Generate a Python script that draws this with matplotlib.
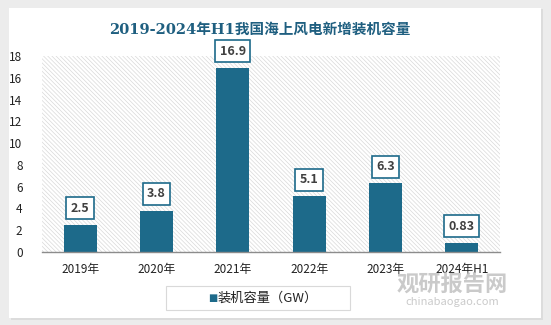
import matplotlib
matplotlib.use("Agg")
from matplotlib import pyplot as plt
from matplotlib.patches import Rectangle
import numpy as np

# data
years = ["2019年", "2020年", "2021年", "2022年", "2023年", "2024年H1"]
capacity = [2.5, 3.8, 16.9, 5.1, 6.3, 0.83]
labels = ["2.5", "3.8", "16.9", "5.1", "6.3", "0.83"]

plt.rcParams['font.family'] = ['Noto Sans CJK SC', 'DejaVu Sans']
plt.rcParams['hatch.linewidth'] = 0.5
plt.rcParams['hatch.color'] = "#d9d9d9"

bar_color = "#1d6a8a"
title_color = "#1f5f80"

fig = plt.figure(figsize=(5.51, 3.25), dpi=100)
fig.patch.set_facecolor("#ececec")

# white card with soft shadow
fig.patches.append(Rectangle((11 / 551, 1 - 320 / 325), 532 / 551, 311 / 325,
                             transform=fig.transFigure, facecolor="#dcdcdc",
                             edgecolor="none", zorder=-3))
fig.patches.append(Rectangle((9 / 551, 1 - 318 / 325), 532 / 551, 310 / 325,
                             transform=fig.transFigure, facecolor="white",
                             edgecolor="none", zorder=-2))

ax = fig.add_axes([42 / 551, 1 - 252 / 325, 458 / 551, 196 / 325])
ax.set_facecolor("none")

x = np.arange(len(years))
ax.set_xlim(-0.5, len(years) - 0.5)
ax.set_ylim(0, 18)

# hatched plot background
ax.add_patch(Rectangle((-0.5, 0), len(years), 18, facecolor="white",
                       edgecolor="#d9d9d9", hatch="\\" * 8, linewidth=0, zorder=0))

ax.bar(x, capacity, width=0.43, color=bar_color, zorder=2)

for xi, v, t in zip(x, capacity, labels):
    ax.annotate(t, (xi, v), xytext=(0, 12), textcoords="offset points",
                ha="center", va="center", fontsize=9, fontweight="bold",
                color="#404040", zorder=4,
                bbox=dict(boxstyle="square,pad=0.35", facecolor="white",
                          edgecolor=bar_color, linewidth=1.2))

ax.set_yticks(range(0, 19, 2))
ax.set_xticks(x)
ax.set_xticklabels(years)
ax.tick_params(axis="both", length=0, labelsize=8.5, colors="#222222")
ax.tick_params(axis="x", pad=8)
ax.tick_params(axis="y", pad=14)
for s in ["top", "right", "left"]:
    ax.spines[s].set_visible(False)
ax.spines["bottom"].set_color("#8c8c8c")
ax.spines["bottom"].set_linewidth(1)
ax.spines["bottom"].set_zorder(3)

fig.text(260 / 551, 1 - 30 / 325, "2019-2024年H1我国海上风电新增装机容量",
         ha="center", va="center", fontsize=10.5, fontweight="bold", color=title_color,
         family=['DejaVu Serif', 'Noto Sans CJK SC'])

# legend
fig.patches.append(Rectangle((166 / 551, 1 - 310 / 325), 184 / 551, 24 / 325,
                             transform=fig.transFigure, facecolor="white",
                             edgecolor="#d9d9d9", linewidth=0.8, zorder=1))
fig.text(208 / 551, 1 - 298 / 325, "■", ha="left", va="center", fontsize=7,
         color=bar_color, family=['DejaVu Sans'])
fig.text(218 / 551, 1 - 298 / 325, "装机容量（GW）", ha="left", va="center",
         fontsize=9.5, color="#222222")

# watermark
fig.text(452 / 551, 1 - 285 / 325, "观研报告网", ha="center", va="center",
         fontsize=16, fontweight="bold", color="#bdbdbd", alpha=0.8)
fig.text(452 / 551, 1 - 302 / 325, "chinabaogao.com", ha="center", va="center",
         fontsize=8, color="#bdbdbd", alpha=0.8)

fig.savefig("out.png", dpi=100, facecolor=fig.get_facecolor())
